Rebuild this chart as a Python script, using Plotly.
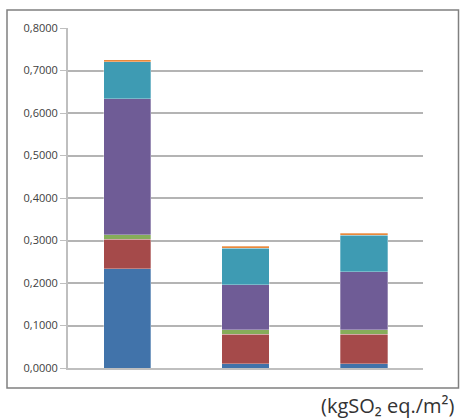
import plotly.graph_objects as go

categories = ["A", "B", "C"]
series_names = ["S1", "S2", "S3", "S4", "S5", "S6"]
s1 = [0.234, 0.010, 0.010]
s2 = [0.069, 0.070, 0.070]
s3 = [0.010, 0.010, 0.010]
s4 = [0.320, 0.106, 0.136]
s5 = [0.088, 0.086, 0.086]
s6 = [0.004, 0.005, 0.005]
series = [s1, s2, s3, s4, s5, s6]
colors = ["#4173AA", "#A54A4A", "#86AD5A", "#6F5C96", "#3E9BB3", "#E9893B"]
tick_vals = [0.0, 0.1, 0.2, 0.3, 0.4, 0.5, 0.6, 0.7, 0.8]
unit_label = "(kgSO₂ eq./m²)"

fig = go.Figure()
for name, vals, col in zip(series_names, series, colors):
    fig.add_trace(go.Bar(x=categories, y=vals, name=name,
                         marker=dict(color=col, line=dict(width=0.6, color="rgba(255,255,255,0.5)"))))

L, R, T, B = 68, 37, 28, 50
W, H = 460, 418
pw, ph = W - L - R, H - T - B

def px(x):
    return (x - L) / pw

def py(y):
    return (H - B - y) / ph

fig.update_layout(
    width=W, height=H,
    margin=dict(l=L, r=R, t=T, b=B, pad=0, autoexpand=False),
    barmode="stack", bargap=0.6,
    showlegend=False,
    paper_bgcolor="white", plot_bgcolor="white",
    separators=",.",
    font=dict(family="Open Sans, Liberation Sans, sans-serif", color="#222222"),
    xaxis=dict(showticklabels=False, showgrid=False, zeroline=False,
               showline=True, linecolor="#BFBFBF", linewidth=2, ticks=""),
    yaxis=dict(range=[0, 0.8], tickvals=tick_vals, tickformat=".4f",
               showgrid=True, gridcolor="#B4B4B4", gridwidth=1.5,
               zeroline=False, showline=True, linecolor="#BFBFBF", linewidth=2,
               ticks="outside", ticklen=6, tickcolor="#BFBFBF",
               tickfont=dict(size=11, color="#404040")),
    shapes=[dict(type="rect", xref="paper", yref="paper",
                 x0=px(7), x1=px(458.5), y0=py(388), y1=py(10),
                 line=dict(color="#808080", width=1.5), layer="below")],
    annotations=[dict(text=unit_label, xref="paper", yref="paper",
                      x=px(456), y=py(405), xanchor="right", yanchor="middle",
                      showarrow=False, font=dict(size=20, color="#333333"))],
)

fig.write_html("out.html", config={"displayModeBar": False},
               post_script="document.body.style.margin='0';document.body.style.padding='0';")
